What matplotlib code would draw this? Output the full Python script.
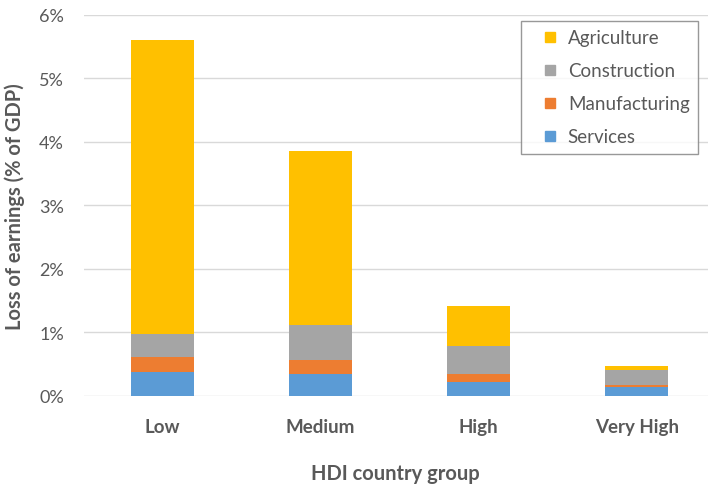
import numpy as np
import matplotlib.pyplot as plt
from matplotlib.lines import Line2D
from matplotlib.ticker import PercentFormatter

groups = ['Low', 'Medium', 'High', 'Very High']
services = [0.38, 0.34, 0.21, 0.13]
manufacturing = [0.23, 0.22, 0.13, 0.04]
construction = [0.37, 0.56, 0.44, 0.23]
agriculture = [4.63, 2.74, 0.64, 0.07]

plt.rcParams['font.family'] = ['Lato', 'DejaVu Sans']
grey = '#595959'

fig = plt.figure(figsize=(7.08, 4.85), dpi=100)
ax = fig.add_axes([83.5 / 708, 1 - 396.7 / 485, 1 - 83.5 / 708, (396.7 - 16) / 485])

x = np.arange(len(groups))
w = 0.4
series = [('Services', services, '#5B9BD5'),
          ('Manufacturing', manufacturing, '#ED7D31'),
          ('Construction', construction, '#A5A5A5'),
          ('Agriculture', agriculture, '#FFC000')]
bottom = np.zeros(len(groups))
for name, vals, col in series:
    ax.bar(x, vals, w, bottom=bottom, color=col, label=name, zorder=3)
    bottom += np.array(vals)

ax.set_ylim(0, 6)
ax.set_xlim(-0.5, 3.45)
ax.yaxis.set_major_formatter(PercentFormatter(decimals=0))
ax.set_yticks(range(7))
ax.grid(axis='y', color='#D9D9D9', linewidth=1, zorder=0)
for s in ax.spines.values():
    s.set_visible(False)
ax.tick_params(axis='both', length=0, labelcolor=grey, labelsize=13)
ax.tick_params(axis='y', pad=14)
ax.set_xticks(x)
ax.set_xticklabels(groups, fontweight='bold', fontsize=13.5)
ax.tick_params(axis='x', pad=16)
ax.set_xlabel('HDI country group', fontweight='bold', fontsize=14.5, color=grey, labelpad=20)
ax.set_ylabel('Loss of earnings (% of GDP)', fontweight='bold', fontsize=14.5, color=grey, labelpad=10)

# square markers give the Excel-like padding left of the swatches
handles = [Line2D([], [], linestyle='none', marker='s', markersize=7.5,
                  markerfacecolor=col, markeredgecolor=col) for _, _, col in series[::-1]]
labels = [name for name, _, _ in series[::-1]]
leg = ax.legend(handles, labels, loc='upper right',
                fontsize=13.5, frameon=True, fancybox=False, edgecolor='#7F7F7F',
                handlelength=2.2, labelspacing=0.85, borderpad=0.45,
                handletextpad=-0.15, borderaxespad=0)
leg.get_frame().set_linewidth(1)
leg.set_bbox_to_anchor((698 / 708, 1 - 22 / 485), transform=fig.transFigure)
for t in leg.get_texts():
    t.set_color(grey)

fig.savefig('out.png', dpi=100)
